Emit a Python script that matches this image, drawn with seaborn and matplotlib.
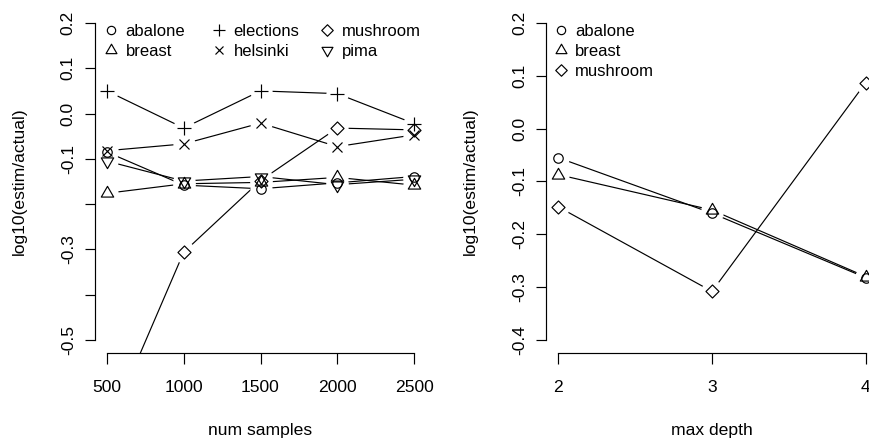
import matplotlib
matplotlib.use("Agg")
import matplotlib.pyplot as plt
from matplotlib.path import Path
import seaborn as sns

# ---------------- data ----------------
samples = [500, 1000, 1500, 2000, 2500]
abalone = [-0.085, -0.158, -0.166, -0.153, -0.139]
breast = [-0.176, -0.155, -0.152, -0.141, -0.158]
elections = [0.050, -0.032, 0.050, 0.044, -0.022]
helsinki = [-0.082, -0.067, -0.021, -0.073, -0.047]
mushroom = [-0.70, -0.306, -0.148, -0.032, -0.036]
pima = [-0.105, -0.149, -0.139, -0.157, -0.145]

depths = [2, 3, 4]
abalone_depth = [-0.055, -0.160, -0.282]
breast_depth = [-0.087, -0.154, -0.280]
mushroom_depth = [-0.148, -0.308, 0.087]

left_yticks = [-0.5, -0.4, -0.3, -0.2, -0.1, 0.0, 0.1, 0.2]
left_yticklabels = ["-0.5", "", "-0.3", "", "-0.1", "0.0", "0.1", "0.2"]
right_yticks = [-0.4, -0.3, -0.2, -0.1, 0.0, 0.1, 0.2]
right_yticklabels = ["-0.4", "-0.3", "-0.2", "-0.1", "0.0", "0.1", "0.2"]
left_xticklabels = ["500", "1000", "1500", "2000", "2500"]
right_xticklabels = ["2", "3", "4"]

left_series = {"abalone": abalone, "breast": breast, "elections": elections,
               "helsinki": helsinki, "mushroom": mushroom, "pima": pima}
right_series = {"abalone": abalone_depth, "breast": breast_depth,
                "mushroom": mushroom_depth}

# ---------------- style ----------------
sns.set_theme(style="white")
plt.rcParams["font.family"] = ["Liberation Sans", "DejaVu Sans"]
plt.rcParams["axes.unicode_minus"] = False

LW = 0.85
TXT = 12.6
LEG = 12.0


def closed(verts):
    return Path(list(verts) + [(0, 0)], closed=True)


TRI_UP = closed([(0, 1), (0.866, -0.5), (-0.866, -0.5)])
TRI_DOWN = closed([(0, -1), (0.866, 0.5), (-0.866, 0.5)])
DIAMOND = closed([(0, 1), (1, 0), (0, -1), (-1, 0)])

MK = {"abalone": "o", "breast": TRI_UP, "elections": "+", "helsinki": "x",
      "mushroom": DIAMOND, "pima": TRI_DOWN}
MS = {"abalone": 6.8, "breast": 10.3, "elections": 9.4, "helsinki": 6.6,
      "mushroom": 9.4, "pima": 10.3}
GAP = 16.0

W, H = 869, 440
fig = plt.figure(figsize=(W / 100, H / 100), dpi=100)
fig.patch.set_facecolor("white")
ax_bot, ax_h = 1 - 352.7 / H, 342.4 / H
axL = fig.add_axes([94.7 / W, ax_bot, 331.6 / W, ax_h])
axR = fig.add_axes([546.0 / W, ax_bot, 332.0 / W, ax_h])


def draw_panel(ax, x, series):
    for name, vals in series.items():
        sns.lineplot(x=x, y=vals, ax=ax, color="black", lw=LW, zorder=1,
                     legend=False)
    for name, vals in series.items():
        sns.lineplot(x=x, y=vals, ax=ax, linestyle="", marker="o",
                     markersize=GAP, markerfacecolor="white",
                     markeredgecolor="white", markeredgewidth=0, zorder=2,
                     legend=False)
    for name, vals in series.items():
        sns.lineplot(x=x, y=vals, ax=ax, linestyle="", marker=MK[name],
                     markersize=MS[name], markerfacecolor="none",
                     markeredgecolor="black", markeredgewidth=LW,
                     color="black", zorder=3, legend=False, label=name)


def style_axes(ax, xticks, xlabels, xb, yticks, ylabels, yb, xlim, ylim,
               xlabel, ylabel):
    ax.set_facecolor("white")
    ax.set_xlim(*xlim)
    ax.set_ylim(*ylim)
    for s in ("top", "right"):
        ax.spines[s].set_visible(False)
    for s in ("left", "bottom"):
        ax.spines[s].set_color("black")
        ax.spines[s].set_linewidth(LW)
        ax.spines[s].set_zorder(5)
    ax.spines["bottom"].set_bounds(*xb)
    ax.spines["left"].set_bounds(*yb)
    ax.set_xticks(xticks)
    ax.set_xticklabels(xlabels)
    ax.set_yticks(yticks)
    ax.set_yticklabels(ylabels, rotation=90, va="center")
    ax.tick_params(axis="both", direction="out", length=7.56, width=LW,
                   colors="black", labelsize=TXT, left=True, bottom=True)
    ax.tick_params(axis="x", pad=12.0)
    ax.tick_params(axis="y", pad=6.0)
    ax.grid(False)
    ax.set_xlabel(xlabel, fontsize=TXT, color="black")
    ax.set_ylabel(ylabel, fontsize=TXT, color="black")
    ax.xaxis.set_label_coords(0.5, -0.2404)
    ax.xaxis.label.set_va("baseline")
    ax.yaxis.set_label_coords(-0.213, 0.5)
    ax.yaxis.label.set_va("baseline")


draw_panel(axL, samples, left_series)
draw_panel(axR, depths, right_series)

style_axes(axL, samples, left_xticklabels, (500, 2500), left_yticks,
           left_yticklabels, (-0.5, 0.2), (420, 2580), (-0.528, 0.228),
           "num samples", "log10(estim/actual)")
style_axes(axR, depths, right_xticklabels, (2, 4), right_yticks,
           right_yticklabels, (-0.4, 0.2), (1.92, 4.08), (-0.424, 0.224),
           "max depth", "log10(estim/actual)")


def make_legend(ax, names, xa, ya):
    hs, ls = ax.get_legend_handles_labels()
    hmap = dict(zip(ls, hs))
    leg = ax.legend([hmap[n] for n in names], names, loc="upper left",
                    bbox_to_anchor=(xa, ya), borderaxespad=0, borderpad=0,
                    frameon=False, fontsize=LEG, handlelength=0.6,
                    handletextpad=0.57, labelspacing=0.3, markerscale=0.88)
    for t in leg.get_texts():
        t.set_color("black")
    ax.legend_ = None
    ax.add_artist(leg)
    return leg


ya = 1 - (23.5 - 10.3) / 342.4
make_legend(axL, ["abalone", "breast"], (106 - 94.7) / 331.6, ya)
make_legend(axL, ["elections", "helsinki"], (214 - 94.7) / 331.6, ya)
make_legend(axL, ["mushroom", "pima"], (322 - 94.7) / 331.6, ya)
make_legend(axR, ["abalone", "breast", "mushroom"], (555.7 - 546) / 332, ya)

fig.savefig("out.png", dpi=100, facecolor="white")
